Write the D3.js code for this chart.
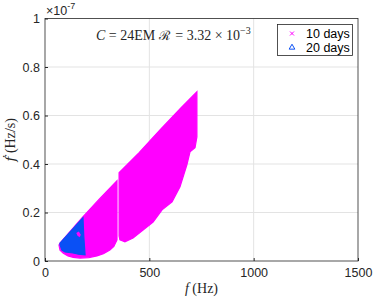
<!DOCTYPE html>
<html><head><meta charset="utf-8">
<script src="https://cdn.jsdelivr.net/npm/d3@7"></script>
<style>body{margin:0;background:#fff}svg{display:block}</style>
</head><body>
<script>
// ---- data (f in Hz, fdot in units of 1e-7 Hz/s) ----
const xTicks = [0, 500, 1000, 1500];
const yTicks = [0, 0.2, 0.4, 0.6, 0.8, 1];
const yTickLabels = ["0", "0.2", "0.4", "0.6", "0.8", "1"];
const seriesNames = ["10 days", "20 days"];
// 10-day search region, lower-frequency band (boundary points)
const tenDaysLow = [[67,0.066],[72,0.074],[177,0.178],[260,0.255],[345,0.331],[345,0.25],[345,0.087],[330,0.06],[311,0.045],[280,0.03],[249,0.021],[210,0.014],[168,0.012],[135,0.015],[110,0.021],[88,0.032],[72,0.045]];
// 10-day search region, higher-frequency band (boundary points)
const tenDaysHigh = [[355,0.364],[450,0.446],[550,0.54],[650,0.63],[728,0.698],[728,0.512],[719,0.467],[695,0.45],[680,0.397],[647,0.306],[609,0.244],[561,0.211],[518,0.161],[470,0.128],[422,0.095],[383,0.079],[359,0.087],[355,0.103]];
// small 10-day patch visible inside the 20-day region
const tenDaysSpot = [[150,0.115],[162,0.122],[172,0.108],[166,0.098],[156,0.104]];
// 20-day search region (boundary points)
const twentyDays = [[72,0.074],[182,0.178],[186,0.1],[192,0.025],[160,0.028],[134,0.033],[96,0.037],[81,0.045],[72,0.066]];

const W = 374, H = 298;
const margin = {left: 45, right: 16, top: 18.5, bottom: 37};
const svg = d3.select("body").append("svg").attr("width", W).attr("height", H);
const x = d3.scaleLinear().domain([0, 1500]).range([margin.left, W - margin.right]);
const y = d3.scaleLinear().domain([0, 1]).range([H - margin.bottom, margin.top]);
const font = "'Liberation Sans', Arial, Helvetica, sans-serif";
const serif = "'Liberation Serif', 'DejaVu Serif', serif";
const axisCol = "#262626";

// grid
const g = svg.append("g");
g.selectAll(".gx").data(xTicks.slice(1, -1)).enter().append("line")
  .attr("x1", d => x(d)).attr("x2", d => x(d)).attr("y1", y(0)).attr("y2", y(1))
  .attr("stroke", "#e3e3e3").attr("stroke-width", 1);
g.selectAll(".gy").data(yTicks.slice(1, -1)).enter().append("line")
  .attr("y1", d => y(d)).attr("y2", d => y(d)).attr("x1", x(0)).attr("x2", x(1500))
  .attr("stroke", "#e3e3e3").attr("stroke-width", 1);

// regions
const line = d3.line().x(d => x(d[0])).y(d => y(d[1])).curve(d3.curveLinearClosed);
const magenta = "#ff00ff", blue = "#0a50f5";
svg.append("path").attr("d", line(tenDaysLow)).attr("fill", magenta).attr("stroke", magenta).attr("stroke-width", 1.2);
svg.append("path").attr("d", line(tenDaysHigh)).attr("fill", magenta).attr("stroke", magenta).attr("stroke-width", 1.2);
svg.append("path").attr("d", line(twentyDays)).attr("fill", blue).attr("stroke", blue).attr("stroke-width", 1.2);
svg.append("path").attr("d", line(tenDaysSpot)).attr("fill", magenta).attr("stroke", "none");

// axes
const xAxis = d3.axisBottom(x).tickValues(xTicks).tickSize(-3).tickPadding(7).tickFormat(d3.format("d"));
const yAxis = d3.axisLeft(y).tickValues(yTicks).tickSize(-3).tickPadding(5).tickFormat((d, i) => yTickLabels[i]);
const gx = svg.append("g").attr("transform", `translate(0,${y(0)})`).call(xAxis);
const gy = svg.append("g").attr("transform", `translate(${x(0)},0)`).call(yAxis);
[gx, gy].forEach(a => {
  a.select(".domain").remove();
  a.selectAll("line").attr("stroke", axisCol);
  a.selectAll("text").attr("fill", axisCol).style("font-family", font).style("font-size", "12.5px");
});
// box
svg.append("rect").attr("x", x(0)).attr("y", y(1)).attr("width", x(1500) - x(0)).attr("height", y(0) - y(1))
  .attr("fill", "none").attr("stroke", axisCol).attr("stroke-width", 0.8);

// exponent
const ex = svg.append("text").attr("x", x(0) + 1).attr("y", 15).attr("fill", axisCol)
  .style("font-family", font).style("font-size", "12.5px");
ex.append("tspan").text("×10");
ex.append("tspan").attr("dy", -6).style("font-size", "9px").text("-7");

// axis labels
const xl = svg.append("text").attr("x", (x(0) + x(1500)) / 2).attr("y", 293).attr("text-anchor", "middle")
  .attr("fill", axisCol).style("font-family", serif).style("font-size", "14px");
xl.append("tspan").style("font-style", "italic").text("f");
xl.append("tspan").text(" (Hz)");
const yl = svg.append("text").attr("transform", `translate(15,${(y(0) + y(1)) / 2}) rotate(-90)`)
  .attr("text-anchor", "middle").attr("fill", axisCol).style("font-family", serif).style("font-size", "14px");
yl.append("tspan").style("font-style", "italic").style("font-family", "'DejaVu Serif', serif").style("font-size", "13px").text("ḟ");
yl.append("tspan").text(" (Hz/s)");

// annotation
const an = svg.append("text").attr("x", 96).attr("y", 40).attr("fill", axisCol)
  .style("font-family", serif).style("font-size", "14px");
an.append("tspan").style("font-style", "italic").text("C");
an.append("tspan").text(" = 24EM ");
an.append("tspan").style("font-family", "'DejaVu Serif', serif").style("font-size", "13px").text("ℛ");
an.append("tspan").attr("dx", 2).text(" = 3.32 × 10");
an.append("tspan").attr("dy", -6).style("font-size", "10px").text("−3");

// legend
const lg = svg.append("g");
lg.append("rect").attr("x", 277.5).attr("y", 24.5).attr("width", 75).attr("height", 31)
  .attr("fill", "#fff").attr("stroke", axisCol).attr("stroke-width", 0.8);
const sym = [d3.symbolX, d3.symbolTriangle];
const cols = [magenta, blue];
seriesNames.forEach((name, i) => {
  const cy = 33.5 + i * 14;
  lg.append("path").attr("transform", `translate(292,${cy})`)
    .attr("d", d3.symbol().type(sym[i]).size(i ? 14 : 12)())
    .attr("fill", "none").attr("stroke", cols[i]).attr("stroke-width", 1);
  lg.append("text").attr("x", 306).attr("y", cy + 4.5).attr("fill", "#000")
    .style("font-family", font).style("font-size", "12.5px").text(name);
});
</script>
</body></html>
